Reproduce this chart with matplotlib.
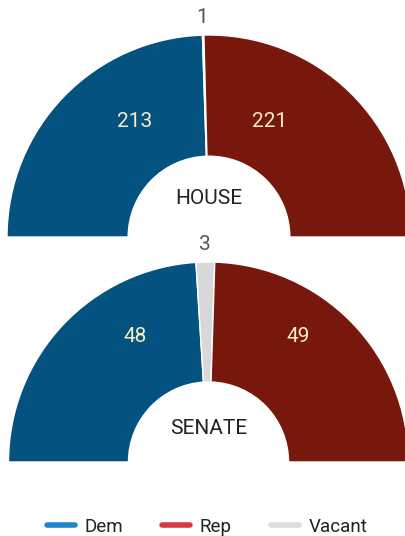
import matplotlib.pyplot as plt
import numpy as np
from matplotlib.lines import Line2D

plt.rcParams['font.family'] = ['Roboto', 'DejaVu Sans']

parties = ['Dem', 'Vacant', 'Rep']
house_seats = [213, 1, 221]
senate_seats = [48, 3, 49]
chambers = ['HOUSE', 'SENATE']

fill_colors = {'Dem': '#03527f', 'Vacant': '#d8d8d8', 'Rep': '#78170c'}
legend_colors = {'Dem': '#1f86cc', 'Rep': '#d63a46', 'Vacant': '#dcdcdc'}
legend_order = ['Dem', 'Rep', 'Vacant']

W, H = 406, 536
fig = plt.figure(figsize=(W / 100, H / 100), dpi=100)
ax = fig.add_axes([0, 0, 1, 1])

# centre (x, y), outer radius and name offset of each half donut, in pixels
layout = [((209, 299), 202, 39), ((208.5, 74), 200, 34)]
# where the Dem / Rep counts sit, offset from the centre
count_offsets = [[(-74, 116), (61, 116)], [(-73, 125), (90, 125)]]


def half_donut(seats, name, center, radius, name_dy, offsets):
    total = sum(seats)
    wedges, _ = ax.pie(seats + [total], center=center, radius=radius,
                       startangle=180, counterclock=False,
                       colors=[fill_colors[p] for p in parties] + ['none'],
                       wedgeprops=dict(width=radius * 0.6, edgecolor='white',
                                       linewidth=1))
    wedges[-1].set_visible(False)
    cx, cy = center
    # vacant count sits just outside the arc
    mid = np.radians(180 - (seats[0] + seats[1] / 2) / total * 180)
    ax.text(cx + (radius + 18) * np.cos(mid), cy + (radius + 18) * np.sin(mid),
            str(seats[1]), ha='center', va='center', fontsize=15,
            color='#555555')
    for val, (dx, dy) in zip([seats[0], seats[2]], offsets):
        ax.text(cx + dx, cy + dy, str(val), ha='center', va='center',
                fontsize=15, color='#f5eec8')
    ax.text(cx, cy + name_dy, name, ha='center', va='center', fontsize=15,
            color='#222222')


for seats, name, (center, radius, name_dy), offs in zip(
        [house_seats, senate_seats], chambers, layout, count_offsets):
    half_donut(seats, name, center, radius, name_dy, offs)

ax.set_xlim(0, W)
ax.set_ylim(0, H)
ax.set_aspect('equal')
ax.axis('off')

handles = [Line2D([], [], color=legend_colors[p], lw=4, solid_capstyle='round')
           for p in legend_order]
fig.legend(handles, legend_order, loc='center', bbox_to_anchor=(0.51, 0.017),
           ncol=3, frameon=False, fontsize=13.5, handlelength=1.5,
           handletextpad=0.5, columnspacing=2.1, labelcolor='#222222')

fig.savefig('out.png', dpi=100)
